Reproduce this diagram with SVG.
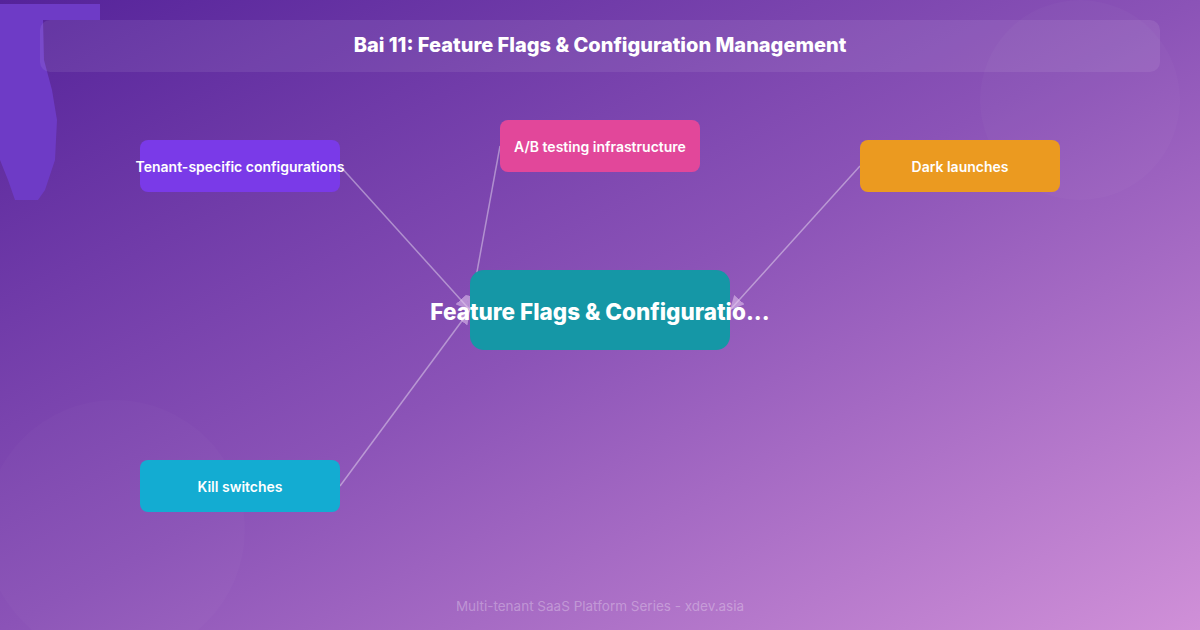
<svg xmlns="http://www.w3.org/2000/svg" width="1200" height="630" viewBox="0 0 1200 630">
<defs>
<linearGradient id="bg" x1="0" y1="0" x2="1" y2="1">
<stop offset="0" stop-color="#55239a"/>
<stop offset="0.5" stop-color="#8b53b7"/>
<stop offset="1" stop-color="#d090d8"/>
</linearGradient>
<marker id="arr" viewBox="0 0 10 10" refX="10" refY="5" markerWidth="14" markerHeight="14" markerUnits="userSpaceOnUse" orient="auto">
<path d="M0,0 L10,5 L0,10 Z" fill="#e6c8f0" fill-opacity="0.55"/>
</marker>
<style>
.edge{stroke:#ffffff;stroke-opacity:0.4;stroke-width:1.5;fill:none}
.nlabel{font-family:Inter,"Liberation Sans",sans-serif;font-size:14px;font-weight:600;fill:#ffffff;text-anchor:middle;dominant-baseline:central}
</style>
</defs>
<rect width="1200" height="630" fill="url(#bg)"/>
<circle cx="1080" cy="100" r="100" fill="#ffffff" fill-opacity="0.025"/>
<circle cx="115" cy="530" r="130" fill="#ffffff" fill-opacity="0.02"/>
<path d="M0,4 L100,4 L100,20 L43,20 L44,60 L52,90 L57,120 L55,160 L45,190 L38,200 L15,200 L8,180 L0,160 Z" fill="#6e3bc6"/>
<rect x="40" y="20" width="1120" height="52" rx="10" fill="#ffffff" fill-opacity="0.08"/>
<text x="600" y="45" font-family="Inter,'Liberation Sans',sans-serif" font-size="20" font-weight="800" fill="#ffffff" text-anchor="middle" dominant-baseline="central">Bai 11: Feature Flags &amp; Configuration Management</text>
<g id="connectors">
<line class="edge" x1="340" y1="166" x2="470" y2="310" marker-end="url(#arr)"/>
<line class="edge" x1="500" y1="146" x2="470" y2="310" marker-end="url(#arr)"/>
<line class="edge" x1="860" y1="166" x2="730" y2="310" marker-end="url(#arr)"/>
<line class="edge" x1="340" y1="486" x2="470" y2="310" marker-end="url(#arr)"/>
</g>
<g id="center">
<rect x="470" y="270" width="260" height="80" rx="14" fill="#1597a6"/>
<text x="600" y="311" font-family="Inter,'Liberation Sans',sans-serif" font-size="22.5" font-weight="800" fill="#ffffff" text-anchor="middle" dominant-baseline="central">Feature Flags &amp; Configuratio...</text>
</g>
<g id="tenant">
<rect x="140" y="140" width="200" height="52" rx="8" fill="#7a3ae8"/>
<text class="nlabel" x="240" y="166">Tenant-specific configurations</text>
</g>
<g id="abtesting">
<rect x="500" y="120" width="200" height="52" rx="8" fill="#e2479a"/>
<text class="nlabel" x="600" y="146">A/B testing infrastructure</text>
</g>
<g id="dark">
<rect x="860" y="140" width="200" height="52" rx="8" fill="#eb9a20"/>
<text class="nlabel" x="960" y="166">Dark launches</text>
</g>
<g id="kill">
<rect x="140" y="460" width="200" height="52" rx="8" fill="#13acd2"/>
<text class="nlabel" x="240" y="486">Kill switches</text>
</g>
<text x="600" y="606" font-family="Inter,'Liberation Sans',sans-serif" font-size="13.5" fill="#ffffff" fill-opacity="0.3" text-anchor="middle" dominant-baseline="central">Multi-tenant SaaS Platform Series - xdev.asia</text>
</svg>
